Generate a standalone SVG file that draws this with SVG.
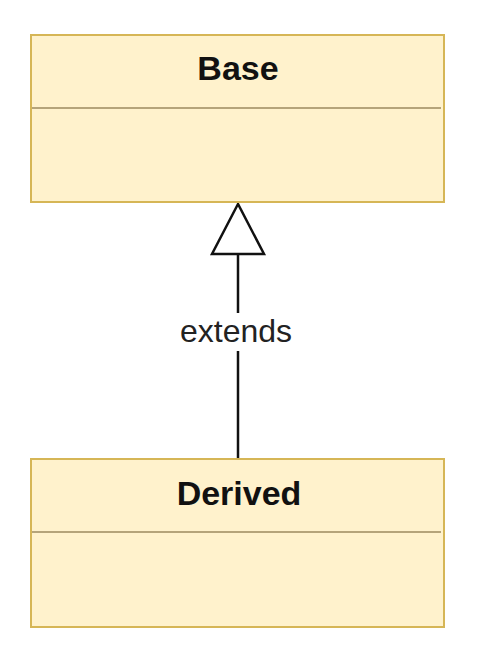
<svg xmlns="http://www.w3.org/2000/svg" width="486" height="660" viewBox="0 0 486 660">
<style>
.box{fill:#fff2cc;stroke:#d6b656;stroke-width:2}
.div{stroke:#b5a47a;stroke-width:2}
.title{font-family:"Liberation Sans",Arial,sans-serif;font-weight:bold;font-size:34px;text-anchor:middle;fill:#111}
.lbl{font-family:"Liberation Sans",Arial,sans-serif;font-size:32px;text-anchor:middle;fill:#222}
.edge{stroke:#111;stroke-width:2.5;fill:none}
</style>
<rect width="486" height="660" fill="#fff"/>
<g id="connectors">
<line class="edge" x1="238" y1="254" x2="238" y2="459"/>
<polygon points="238,204 212,254 264,254" fill="#fff" stroke="#111" stroke-width="2.5" stroke-linejoin="miter"/>
<rect x="178" y="313" width="118" height="38" fill="#fff"/>
<text class="lbl" x="236" y="342">extends</text>
</g>
<g id="base">
<rect class="box" x="31" y="35" width="413" height="167"/>
<line class="div" x1="32" y1="108" x2="441" y2="108"/>
<text class="title" x="238" y="80">Base</text>
</g>
<g id="derived">
<rect class="box" x="31" y="459" width="413" height="168"/>
<line class="div" x1="32" y1="532" x2="441" y2="532"/>
<text class="title" x="239" y="505">Derived</text>
</g>
</svg>
